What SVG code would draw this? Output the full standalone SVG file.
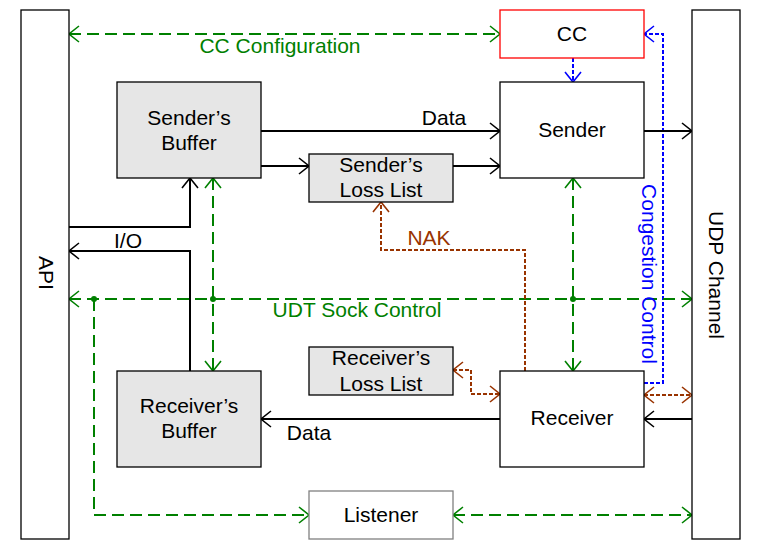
<svg xmlns="http://www.w3.org/2000/svg" width="763" height="554" viewBox="0 0 763 554">
<style>
text{font-family:"Liberation Sans",Arial,sans-serif;font-size:21px;fill:#000;text-anchor:middle}
.box{fill:#fff;stroke:#000;stroke-width:1.3}
.gray{fill:#e6e6e6;stroke:#000;stroke-width:1.3}
.c{fill:none;stroke-width:2}
.k{stroke:#000}
.g{stroke:#008000;stroke-dasharray:12,6}
.b{stroke:#0000ff;stroke-dasharray:4,2}
.r{stroke:#993300;stroke-dasharray:4,2}
.gt{fill:#008000}
.bt{fill:#0000ff}
.rt{fill:#993300}
</style>
<defs>
<marker id="ak" viewBox="-1 -9 12 18" refX="10" refY="0" markerWidth="12" markerHeight="18" markerUnits="userSpaceOnUse" orient="auto-start-reverse"><path d="M0,-8L10,0L0,8" fill="none" stroke="#000" stroke-width="1.6"/></marker>
<marker id="ag" viewBox="-1 -9 12 18" refX="10" refY="0" markerWidth="12" markerHeight="18" markerUnits="userSpaceOnUse" orient="auto-start-reverse"><path d="M0,-8L10,0L0,8" fill="none" stroke="#008000" stroke-width="1.6"/></marker>
<marker id="ab" viewBox="-1 -9 12 18" refX="10" refY="0" markerWidth="12" markerHeight="18" markerUnits="userSpaceOnUse" orient="auto-start-reverse"><path d="M0,-8L10,0L0,8" fill="none" stroke="#0000ff" stroke-width="1.6"/></marker>
<marker id="ar" viewBox="-1 -9 12 18" refX="10" refY="0" markerWidth="12" markerHeight="18" markerUnits="userSpaceOnUse" orient="auto-start-reverse"><path d="M0,-8L10,0L0,8" fill="none" stroke="#993300" stroke-width="1.6"/></marker>
</defs>
<rect width="763" height="554" fill="#fff"/>
<g id="connectors">
<path class="c g" d="M69,34H500" marker-start="url(#ag)" marker-end="url(#ag)"/>
<path class="c b" d="M573,58V82" marker-end="url(#ab)"/>
<path class="c b" d="M644,383H663V34H644" marker-end="url(#ab)"/>
<path class="c k" d="M261,131H500" marker-end="url(#ak)"/>
<path class="c k" d="M261,166H309" marker-end="url(#ak)"/>
<path class="c k" d="M453,166H500" marker-end="url(#ak)"/>
<path class="c k" d="M644,131H692" marker-end="url(#ak)"/>
<path class="c k" d="M69,227H190V178" marker-end="url(#ak)"/>
<path class="c k" d="M190,371V251H69" marker-end="url(#ak)"/>
<path class="c g" d="M213,178V371" marker-start="url(#ag)" marker-end="url(#ag)"/>
<path class="c g" d="M69,299H692" marker-start="url(#ag)" marker-end="url(#ag)"/>
<path class="c g" d="M573,178V371" marker-start="url(#ag)" marker-end="url(#ag)"/>
<path class="c g" d="M94,299V515H309" marker-end="url(#ag)"/>
<path class="c g" d="M453,515H692" marker-start="url(#ag)" marker-end="url(#ag)"/>
<path class="c r" d="M525,371V250H381V202" marker-end="url(#ar)"/>
<path class="c r" d="M453,370H471V394H500" marker-start="url(#ar)" marker-end="url(#ar)"/>
<path class="c r" d="M644,395H692" marker-start="url(#ar)" marker-end="url(#ar)"/>
<path class="c k" d="M692,419H644" marker-end="url(#ak)"/>
<path class="c k" d="M500,419H261" marker-end="url(#ak)"/>
<circle cx="94" cy="299" r="3" fill="#008000"/>
<circle cx="213" cy="299" r="3" fill="#008000"/>
<circle cx="573" cy="299" r="3" fill="#008000"/>
<text class="gt" x="280" y="53">CC Configuration</text>
<text x="444" y="125">Data</text>
<text x="128" y="248">I/O</text>
<text class="rt" x="429" y="245">NAK</text>
<text class="gt" x="357" y="317">UDT Sock Control</text>
<text x="309" y="440">Data</text>
<text class="bt" transform="translate(642,274) rotate(90)">Congestion Control</text>
</g>
<g id="api"><rect class="box" x="21" y="10" width="48" height="529"/><text transform="translate(39,273) rotate(90)">API</text></g>
<g id="udp"><rect class="box" x="692" y="10" width="48" height="529"/><text transform="translate(709,275) rotate(90)">UDP Channel</text></g>
<g id="cc"><rect x="500" y="10" width="144" height="48" fill="#fff" stroke="#ff0000" stroke-width="1.3"/><text x="572" y="41">CC</text></g>
<g id="sender"><rect class="box" x="500" y="82" width="144" height="96"/><text x="572" y="137">Sender</text></g>
<g id="senders-buffer"><rect class="gray" x="117" y="82" width="144" height="96"/><text x="189" y="125">Sender’s</text><text x="189" y="150">Buffer</text></g>
<g id="senders-loss-list"><rect class="gray" x="309" y="154" width="144" height="48"/><text x="381" y="172">Sender’s</text><text x="381" y="197">Loss List</text></g>
<g id="receivers-loss-list"><rect class="gray" x="309" y="347" width="144" height="48"/><text x="381" y="365">Receiver’s</text><text x="381" y="390.5">Loss List</text></g>
<g id="receivers-buffer"><rect class="gray" x="117" y="371" width="144" height="96"/><text x="189" y="412.5">Receiver’s</text><text x="189" y="438">Buffer</text></g>
<g id="receiver"><rect class="box" x="500" y="371" width="144" height="96"/><text x="572" y="425">Receiver</text></g>
<g id="listener"><rect x="309" y="491" width="144" height="48" fill="#fff" stroke="#808080" stroke-width="1.3"/><text x="381" y="522">Listener</text></g>
</svg>
